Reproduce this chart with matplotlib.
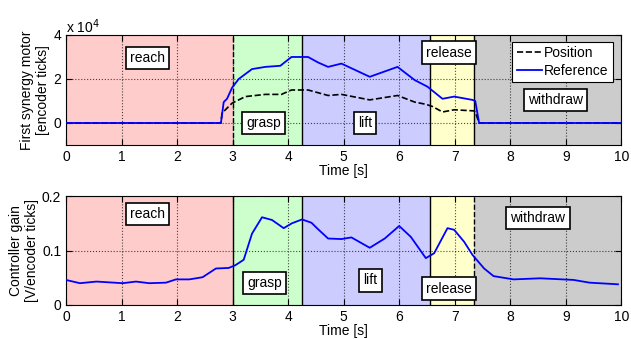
import matplotlib.pyplot as plt

plt.rcParams['font.family'] = ['Liberation Sans', 'DejaVu Sans']
plt.rcParams['font.size'] = 10

# phases: name, start, end, colour
phase_names = ['reach', 'grasp', 'lift', 'release', 'withdraw']
phase_edges = [0, 3.0, 4.25, 6.55, 7.35, 10]
phase_colors = ['#ffcccc', '#ccffcc', '#ccccff', '#ffffcc', '#cccccc']

# first synergy motor [encoder ticks]
ref_t = [0, 2.79, 2.84, 2.9, 2.99, 3.11, 3.35, 3.59, 3.86, 4.06, 4.36, 4.54, 4.72, 4.96,
         5.47, 5.97, 6.28, 6.51, 6.78, 6.99, 7.32, 7.37, 7.44, 10]
ref_y = [0, 0, 9500, 11000, 16000, 20000, 24500, 25500, 26000, 30000, 30000, 27500, 25500, 27000,
         21000, 25500, 19500, 16500, 11000, 12000, 10500, 10000, 0, 0]
pos_t = [0, 2.79, 2.81, 2.99, 3.23, 3.59, 3.88, 4.06, 4.36, 4.72, 4.96, 5.47, 5.97, 6.28,
         6.48, 6.6, 6.78, 6.99, 7.35, 7.37, 7.44, 10]
pos_y = [0, 0, 4500, 9000, 12000, 13000, 13000, 15000, 15000, 12500, 13000, 10500, 12500, 9500,
         8500, 7500, 5000, 6000, 5500, 5000, 0, 0]

# controller gain [V/encoder ticks]
gain_t = [0, 0.25, 0.55, 1.02, 1.26, 1.5, 1.8, 1.98, 2.22, 2.46, 2.7, 2.93, 3.05, 3.2, 3.35,
          3.53, 3.71, 3.92, 4.07, 4.25, 4.42, 4.54, 4.72, 4.96, 5.14, 5.47, 5.74, 6.0, 6.21,
          6.48, 6.63, 6.87, 6.99, 7.17, 7.32, 7.53, 7.7, 8.06, 8.54, 9.14, 9.43, 9.94]
gain_y = [0.046, 0.040, 0.043, 0.040, 0.043, 0.040, 0.041, 0.047, 0.047, 0.051, 0.067, 0.068,
          0.073, 0.083, 0.131, 0.161, 0.156, 0.141, 0.150, 0.157, 0.151, 0.139, 0.122, 0.121,
          0.124, 0.105, 0.122, 0.145, 0.125, 0.086, 0.095, 0.141, 0.138, 0.116, 0.092, 0.067,
          0.053, 0.047, 0.049, 0.046, 0.041, 0.038]

# label positions (x, y) for each phase
top_labels = [(1.47, 29500), (3.56, 0), (5.38, 0), (6.9, 32000), (8.82, 10500)]
bot_labels = [(1.47, 0.167), (3.58, 0.04), (5.48, 0.045), (6.9, 0.03), (8.5, 0.16)]

fig = plt.figure(figsize=(6.31, 3.39), dpi=100)
ax1 = fig.add_axes([0.1046, 0.5723, 0.8800, 0.3245])
ax2 = fig.add_axes([0.1046, 0.1003, 0.8800, 0.3215])


def shade(ax, dashed_at):
    for i in range(len(phase_names)):
        ax.axvspan(phase_edges[i], phase_edges[i + 1], color=phase_colors[i], lw=0, zorder=0)
    for i, e in enumerate(phase_edges[1:-1]):
        ls = '--' if i == dashed_at else '-'
        ax.axvline(e, color='k', ls=ls, lw=1.0, zorder=1)
    ax.grid(True, color='k', ls=':', lw=0.8, alpha=0.7)
    ax.set_axisbelow(False)
    ax.tick_params(direction='in', top=True, right=True, length=4, labelsize=10)
    ax.set_xlim(0, 10)
    ax.set_xticks(range(0, 11))
    ax.set_xlabel('Time [s]', labelpad=0)
    for s in ax.spines.values():
        s.set_linewidth(0.8)


def boxes(ax, pos):
    for name, (x, y) in zip(phase_names, pos):
        ax.text(x, y, name, ha='center', va='center', fontsize=10, zorder=5,
                bbox=dict(boxstyle='square,pad=0.3', fc='white', ec='k', lw=1.2))


shade(ax1, 0)
ax1.plot(pos_t, pos_y, 'k--', lw=1.2, label='Position', zorder=3)
ax1.plot(ref_t, ref_y, color='#0000ff', lw=1.3, label='Reference', zorder=3)
ax1.set_ylim(-10000, 40000)
ax1.set_yticks([0, 20000, 40000])
ax1.set_yticklabels(['0', '2', '4'])
ax1.text(0, 1.02, 'x 10$^4$', transform=ax1.transAxes, fontsize=10)
ax1.set_ylabel('First synergy motor\n[encoder ticks]', labelpad=2)
boxes(ax1, top_labels)
leg = ax1.legend(loc='upper right', bbox_to_anchor=(0.985, 0.94), fancybox=False,
                 framealpha=1, edgecolor='k', handlelength=1.8, handletextpad=0.2,
                 borderpad=0.3, labelspacing=0.3, borderaxespad=0)
leg.get_frame().set_linewidth(0.8)

shade(ax2, 3)
ax2.plot(gain_t, gain_y, color='#0000ff', lw=1.3, zorder=3)
ax2.set_ylim(0, 0.2)
ax2.set_yticks([0, 0.1, 0.2])
ax2.set_yticklabels(['0', '0.1', '0.2'])
ax2.set_ylabel('Controller gain\n[V/encoder ticks]', labelpad=2)
boxes(ax2, bot_labels)

fig.savefig('out.png', dpi=100)
